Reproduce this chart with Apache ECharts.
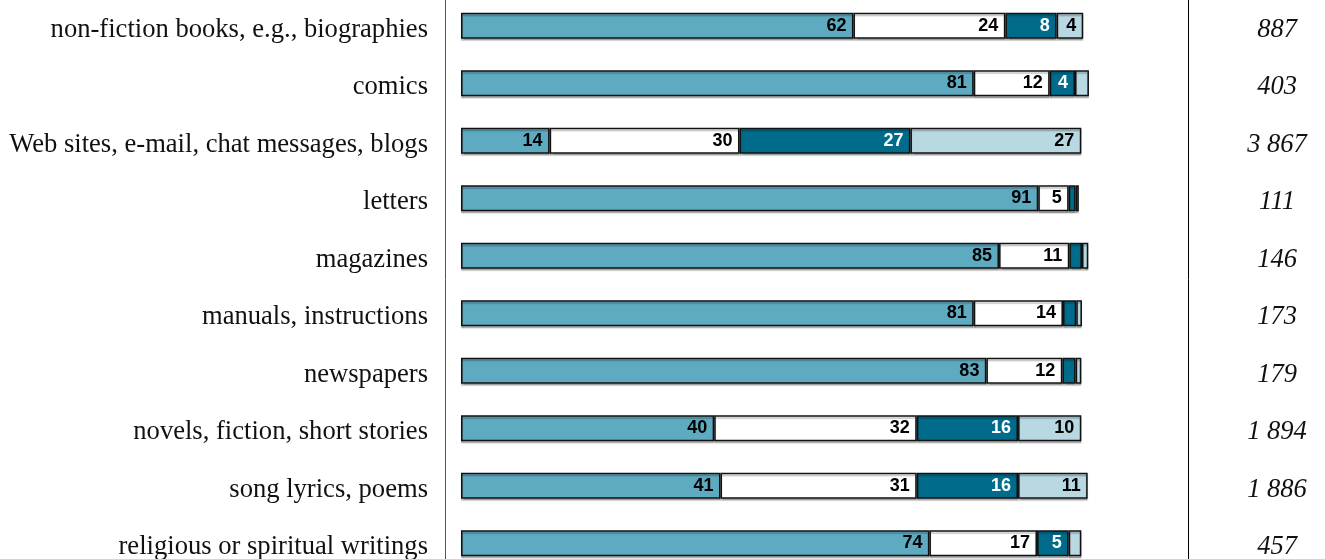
<!DOCTYPE html>
<html>
<head>
<meta charset="utf-8">
<title>reading</title>
<script src="https://cdn.jsdelivr.net/npm/echarts@6/dist/echarts.min.js"></script>
<style>
  html, body { margin: 0; padding: 0; background: #fff; }
  #main { width: 1325px; height: 559px; }
</style>
</head>
<body>
<div id="main"></div>
<script>
  // categories, top to bottom
  var categories = [
    'non-fiction books, e.g., biographies',
    'comics',
    'Web sites, e-mail, chat messages, blogs',
    'letters',
    'magazines',
    'manuals, instructions',
    'newspapers',
    'novels, fiction, short stories',
    'song lyrics, poems',
    'religious or spiritual writings'
  ];
  // shares in %, one array per segment
  var segA = [62, 81, 14, 91.2, 85, 81, 83, 40, 41, 74];
  var segB = [24, 12, 30, 4.8, 11.1, 14.1, 12, 32, 31, 17];
  var segC = [8.1, 4, 27, 1.1, 2, 2.1, 2.1, 16, 16, 5];
  var segD = [4.2, 2.2, 27, 0.5, 1, 0.9, 0.9, 10, 11, 2];
  // number of answers, right column
  var totals = [887, 403, 3867, 111, 146, 173, 179, 1894, 1886, 457];

  var colors = ['#5eaac1', '#ffffff', '#006b8a', '#b8d8e2'];
  var textColors = ['#000', '#000', '#fff', '#000'];

  function fmtTotal(v) {
    return String(v).replace(/\B(?=(\d{3})+(?!\d))/g, ' ');
  }

  var chart = echarts.init(document.getElementById('main'));

  var series = [segA, segB, segC, segD].map(function (arr, i) {
    return {
      name: 'seg' + i,
      type: 'bar',
      stack: 'total',
      barWidth: 26,
      data: arr,
      itemStyle: {
        color: colors[i],
        borderColor: '#111',
        borderWidth: 1.5,
        shadowColor: 'rgba(0,0,0,0.25)',
        shadowOffsetY: 2,
        shadowBlur: 1
      },
      label: {
        show: true,
        position: 'insideRight',
        distance: 7,
        color: textColors[i],
        fontFamily: 'Liberation Sans, Arial, sans-serif',
        fontWeight: 'bold',
        fontSize: 18,
        formatter: function (p) {
          return p.value >= 3 ? Math.round(p.value) : '';
        }
      },
      emphasis: { disabled: true }
    };
  });

  var serif = 'Liberation Serif, Times New Roman, serif';

  var option = {
    animation: false,
    backgroundColor: '#fff',
    grid: { left: 461, width: 633, top: -3, height: 575, outerBoundsMode: 'none' },
    xAxis: { type: 'value', min: 0, max: 100, show: false },
    yAxis: [
      {
        type: 'category',
        data: categories,
        inverse: true,
        position: 'left',
        offset: 16,
        axisLine: { show: true, onZero: false, lineStyle: { color: '#555', width: 1 } },
        axisTick: { show: false },
        axisLabel: {
          margin: 17,
          formatter: function (v) { return '{t|' + v + '}'; },
          rich: {
            t: { padding: [8, 0, 0, 0], color: '#111', fontFamily: serif, fontSize: 26.6 }
          }
        }
      },
      {
        type: 'category',
        data: totals.map(fmtTotal),
        inverse: true,
        position: 'right',
        offset: 94,
        axisLine: { show: true, onZero: false, lineStyle: { color: '#000', width: 1 } },
        axisTick: { show: false },
        axisLabel: {
          margin: 89,
          align: 'center',
          formatter: function (v) { return '{t|' + v + '}'; },
          rich: {
            t: { padding: [8, 0, 0, 0], color: '#111', fontFamily: serif, fontStyle: 'italic', fontSize: 26.5 }
          }
        }
      }
    ],
    series: series
  };

  chart.setOption(option);
</script>
</body>
</html>
